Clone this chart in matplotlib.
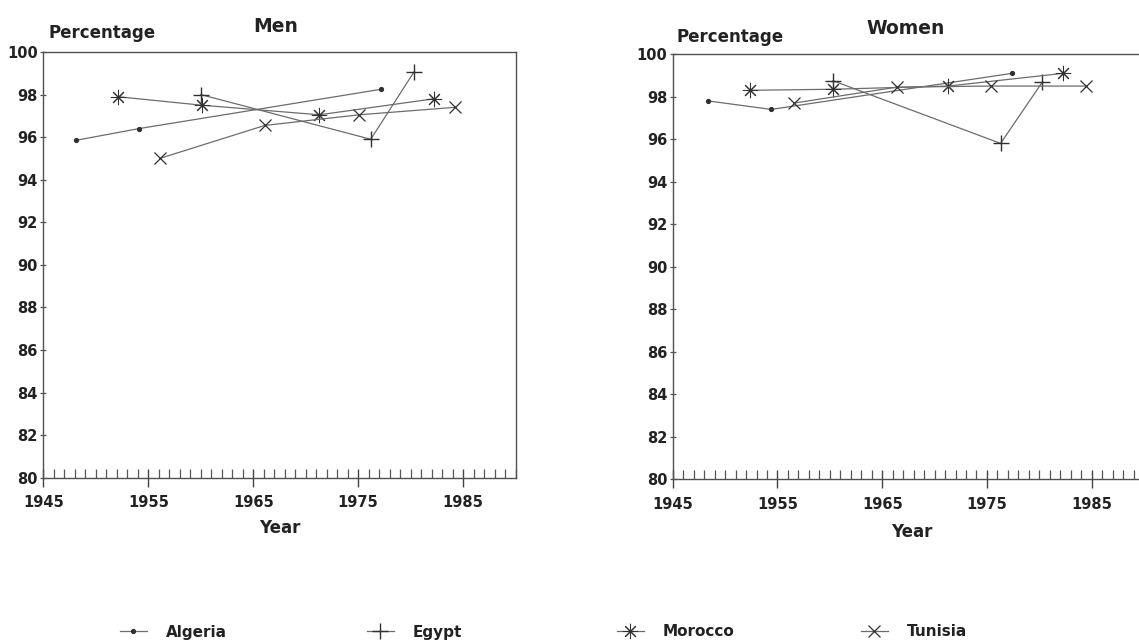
import matplotlib.pyplot as plt
from matplotlib.ticker import MultipleLocator

plt.rcParams['font.family'] = ['DejaVu Sans']
plt.rcParams['font.weight'] = 'bold'

countries = ['Algeria', 'Egypt', 'Morocco', 'Tunisia']

# Men
men_algeria_year = [1948.1, 1954.1, 1977.2]
men_algeria_pct = [95.85, 96.4, 98.25]
men_egypt_year = [1960.0, 1976.2, 1980.3]
men_egypt_pct = [98.0, 95.9, 99.05]
men_morocco_year = [1952.1, 1960.1, 1971.3, 1982.2]
men_morocco_pct = [97.9, 97.5, 97.05, 97.8]
men_tunisia_year = [1956.1, 1966.1, 1975.1, 1984.2]
men_tunisia_pct = [95.0, 96.55, 97.05, 97.4]

# Women
women_algeria_year = [1948.4, 1954.4, 1977.4]
women_algeria_pct = [97.8, 97.4, 99.1]
women_egypt_year = [1960.3, 1976.3, 1980.3]
women_egypt_pct = [98.75, 95.8, 98.7]
women_morocco_year = [1952.4, 1960.3, 1971.3, 1982.3]
women_morocco_pct = [98.3, 98.35, 98.5, 99.1]
women_tunisia_year = [1956.6, 1966.4, 1975.4, 1984.5]
women_tunisia_pct = [97.7, 98.45, 98.5, 98.5]

year_ticks = [1945, 1955, 1965, 1975, 1985]

markers = ['.', '+', (8, 2, 0), 'x']
msizes = [5.5, 11, 11, 8]
medges = [1.0, 1.0, 0.75, 0.9]

W, H = 1139, 642
fig = plt.figure(figsize=(W / 100, H / 100), dpi=100)


def panel(rect, title, title_xy, pct_xy, year_xy, series, right_spine):
    ax = fig.add_axes(rect)
    lines = []
    for (x, y), m, s, e in zip(series, markers, msizes, medges):
        ln, = ax.plot(x, y, color='#6c6c6c', lw=0.9, marker=m, ms=s,
                      mec='#303030', mfc='#303030', mew=e)
        lines.append(ln)
    ax.set_xlim(1945, 1990)
    ax.set_ylim(80, 100)
    ax.set_xticks(year_ticks)
    ax.xaxis.set_minor_locator(MultipleLocator(1))
    ax.set_yticks(range(80, 101, 2))
    ax.tick_params(axis='x', which='major', direction='inout', length=12.5,
                   width=1, color='#444', labelsize=10.5, pad=6.5,
                   labelcolor='#222')
    ax.tick_params(axis='x', which='minor', direction='in', length=6.3,
                   width=0.9, color='#555')
    ax.tick_params(axis='y', direction='inout', length=5, width=0.9,
                   color='#555', labelsize=10.5, pad=1.5, labelcolor='#222')
    for sp in ax.spines.values():
        sp.set_color('#505050')
        sp.set_linewidth(1.0)
    ax.spines['right'].set_visible(right_spine)
    fig.text(title_xy[0] / W, 1 - title_xy[1] / H, title, ha='center',
             va='center', fontsize=13.5, color='#222')
    fig.text(pct_xy[0] / W, 1 - pct_xy[1] / H, 'Percentage', ha='left',
             va='center', fontsize=12, color='#222')
    fig.text(year_xy[0] / W, 1 - year_xy[1] / H, 'Year', ha='center',
             va='center', fontsize=12, color='#222')
    return lines


lines = panel([43.3 / W, 1 - 477.7 / H, 472.3 / W, 425.7 / H], 'Men',
              (276, 26), (48, 33), (280, 528),
              [(men_algeria_year, men_algeria_pct),
               (men_egypt_year, men_egypt_pct),
               (men_morocco_year, men_morocco_pct),
               (men_tunisia_year, men_tunisia_pct)], True)

panel([672.7 / W, 1 - 479 / H, 471.4 / W, 424.8 / H], 'Women',
      (906, 29), (677, 37), (912, 532),
      [(women_algeria_year, women_algeria_pct),
       (women_egypt_year, women_egypt_pct),
       (women_morocco_year, women_morocco_pct),
       (women_tunisia_year, women_tunisia_pct)], False)

# one legend entry per country, spread along the bottom
for ln, name, x0 in zip(lines, countries, [120, 367, 617, 861]):
    fig.legend(handles=[ln], labels=[name], loc='center left',
               bbox_to_anchor=(x0 / W, 1 - 632 / H), frameon=False,
               handlelength=1.75, handletextpad=1.25, borderpad=0,
               borderaxespad=0, fontsize=11, labelcolor='#222')

fig.savefig('out.png', dpi=100)
